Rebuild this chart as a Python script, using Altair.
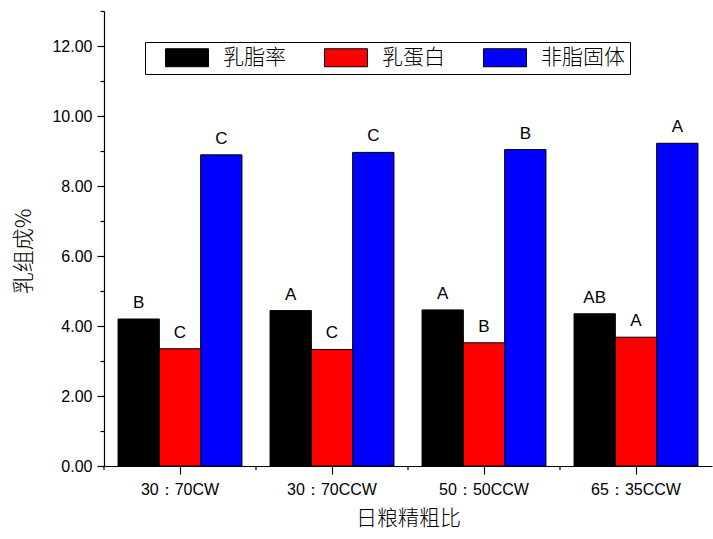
import altair as alt
import pandas as pd

# Diet concentrate:forage ratio groups and milk composition (%)
groups = ["30：70CW", "30：70CCW", "50：50CCW", "65：35CCW"]
series = ["乳脂率", "乳蛋白", "非脂固体"]
colors = ["#000000", "#FF0000", "#0000FF"]

milk_fat = [4.20, 4.44, 4.46, 4.35]
milk_protein = [3.35, 3.33, 3.52, 3.68]
solids_nonfat = [8.89, 8.96, 9.04, 9.22]

fat_letters = ["B", "A", "A", "AB"]
protein_letters = ["C", "C", "B", "A"]
snf_letters = ["C", "C", "B", "A"]

rows = []
for name, vals, letters in zip(series,
                               [milk_fat, milk_protein, solids_nonfat],
                               [fat_letters, protein_letters, snf_letters]):
    for g, v, l in zip(groups, vals, letters):
        rows.append({"group": g, "series": name, "value": v, "letter": l})
df = pd.DataFrame(rows)
bounds = pd.DataFrame({"group": groups})

W, H = 608, 455
LATIN = "Liberation Sans, Arial, sans-serif"
CJK = "Noto Sans CJK SC"
X_TITLE = "日粮精粗比"

x_axis = alt.Axis(labelAngle=0, tickSize=8, labelPadding=7, titlePadding=10,
                  titleFontSize=21)
x_enc = alt.X("group:N", sort=groups, title=X_TITLE,
              scale=alt.Scale(paddingInner=0, paddingOuter=0), axis=x_axis)
xoff = alt.XOffset("series:N", sort=series,
                   scale=alt.Scale(paddingInner=0, paddingOuter=0.34))
y_enc = alt.Y("value:Q", title="乳组成%",
              scale=alt.Scale(domain=[0, 13], nice=False, zero=True),
              axis=alt.Axis(values=list(range(14)),
                            labelExpr="datum.value % 2 === 0 ? format(datum.value, '.2f') : ''",
                            tickSize={"condition": {"test": "datum.value % 2 === 0", "value": 7},
                                      "value": 4},
                            labelPadding=5,
                            titleX=-69, titleY=240, titleAngle=-90,
                            titleAlign="center", titleBaseline="bottom",
                            titleFontSize=22))

legend = alt.Legend(title=None, orient="none", legendX=41, legendY=31,
                    direction="horizontal",
                    symbolType="M0.5,-0.9H4.8V0.9H0.5Z", symbolSize=400,
                    symbolStrokeColor="black", symbolStrokeWidth=1,
                    labelFont=CJK, labelFontSize=21, labelFontWeight=300,
                    labelColor="black",
                    labelOffset=52, columnPadding=23, padding=5,
                    strokeColor="black", fillColor="white")

bars = alt.Chart(df).mark_bar(stroke="black", strokeWidth=1).encode(
    x=x_enc,
    xOffset=xoff,
    y=y_enc,
    color=alt.Color("series:N", sort=series,
                    scale=alt.Scale(domain=series, range=colors),
                    legend=legend),
)

letters = alt.Chart(df).mark_text(
    baseline="alphabetic", dy=-11, font=LATIN, fontSize=17, color="black"
).encode(
    x=x_enc,
    xOffset=xoff,
    y=y_enc,
    text="letter:N",
)

# short ticks on the boundaries between groups
minor_x = alt.Chart(bounds).mark_rule(color="black", strokeWidth=1.2).encode(
    x=alt.X("group:N", sort=groups, bandPosition=0, title=X_TITLE),
    y=alt.value(H),
    y2=alt.value(H + 4),
)

chart = alt.layer(bars, letters, minor_x).properties(
    width=W, height=H,
    autosize=alt.AutoSizeParams(type="none"),
    padding={"left": 104, "top": 11, "right": 1, "bottom": 73},
).configure_axis(
    domainColor="black", domainWidth=1.2,
    tickColor="black", tickWidth=1.2,
    labelFont=LATIN, labelFontSize=16, labelColor="black",
    titleFont=CJK, titleFontWeight=300, titleColor="black",
    grid=False,
).configure_view(stroke=None)

chart.save("out.html", embed_options={"renderer": "svg", "actions": False})
